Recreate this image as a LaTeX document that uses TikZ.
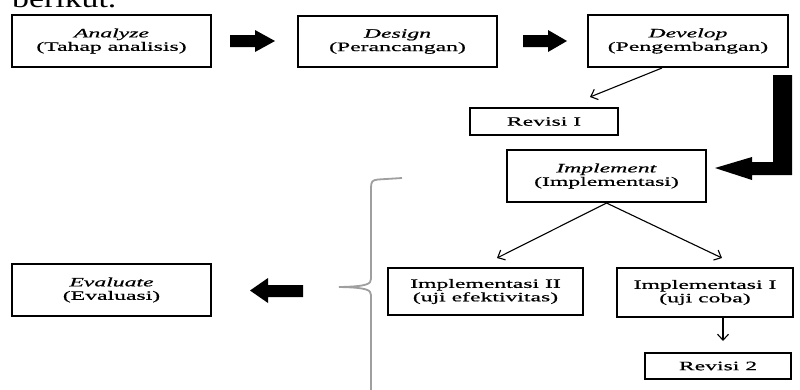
\documentclass[tikz,border=0pt]{standalone}
\usepackage{fontspec}
\setmainfont{Liberation Serif}[FakeStretch=1.85,FakeBold=0.6]
\newfontfamily\bigfont{Liberation Serif}[FakeStretch=1.3]
\usetikzlibrary{arrows.meta}
\tikzset{
  stagebox/.style={draw=black, line width=2pt, fill=white, align=center, inner sep=0pt,
    font=\fontsize{12.8}{13.4}\selectfont},
  thinarrow/.style={draw=black, line width=1.1pt, -{Straight Barb[length=6pt,width=11pt]}},
  blockarrow/.style={fill=black, draw=none},
  bracestyle/.style={draw=gray!75, line width=1.8pt}
}
\begin{document}
\begin{tikzpicture}[x=1pt,y=-1pt]
\useasboundingbox (0,0) rectangle (800,389);
\node[anchor=base west, inner sep=0pt, font=\bigfont\fontsize{26}{28}\selectfont] (title) at (12,7.5) {berikut.};

\node[stagebox, minimum width=199pt, minimum height=52pt] (analyze) at (111.5,41) {\textit{Analyze}\\(Tahap analisis)};
\node[stagebox, minimum width=199pt, minimum height=51pt] (design) at (397.5,41.5) {\textit{Design}\\(Perancangan)};
\node[stagebox, minimum width=200pt, minimum height=52pt] (develop) at (688,41) {\textit{Develop}\\(Pengembangan)};
\node[stagebox, minimum width=148pt, minimum height=27pt] (revisi1) at (544,121.5) {Revisi I};
\node[stagebox, minimum width=199pt, minimum height=52pt] (implement) at (606.5,176) {\textit{Implement}\\(Implementasi)};
\node[stagebox, minimum width=199pt, minimum height=52pt] (evaluate) at (111.5,290) {\textit{Evaluate}\\(Evaluasi)};
\node[stagebox, minimum width=195pt, minimum height=47pt] (impl2) at (485.5,291.5) {Implementasi II\\(uji efektivitas)};
\node[stagebox, minimum width=176pt, minimum height=49pt] (impl1) at (705,292.5) {Implementasi I\\(uji coba)};
\node[stagebox, minimum width=146pt, minimum height=26pt] (revisi2) at (718,366) {Revisi 2};

% block arrows
\fill[blockarrow] (230,35) -- (255,35) -- (255,30) -- (275,41) -- (255,52) -- (255,47) -- (230,47) -- cycle;
\fill[blockarrow] (523,35) -- (548,35) -- (548,30) -- (567,41) -- (548,52) -- (548,47) -- (523,47) -- cycle;
\fill[blockarrow] (303,285) -- (268,285) -- (268,278) -- (250,290.5) -- (268,303) -- (268,297) -- (303,297) -- cycle;
\fill[blockarrow] (773,75) -- (792,75) -- (792,175) -- (752,175) -- (752,180) -- (715,168) -- (752,157) -- (752,162) -- (773,162) -- cycle;

% thin arrows
\draw[thinarrow] ([xshift=-26pt]develop.south) -- ([xshift=46pt,yshift=10pt]revisi1.north);
\draw[thinarrow] (implement.south) -- ([xshift=11.5pt,yshift=9pt]impl2.north);
\draw[thinarrow] (implement.south) -- ([xshift=17pt,yshift=9pt]impl1.north);
\draw[thinarrow] ([xshift=18pt]impl1.south) -- ([xshift=5pt,yshift=11pt]revisi2.north);

% brace
\draw[bracestyle] (402,178) -- (378,179.5) .. controls (372,180) and (371,182) .. (371,188)
  -- (371,279) .. controls (371,284) and (367,286.5) .. (339,287)
  .. controls (367,287.5) and (371,290) .. (371,295) -- (371,392);
\end{tikzpicture}
\end{document}
